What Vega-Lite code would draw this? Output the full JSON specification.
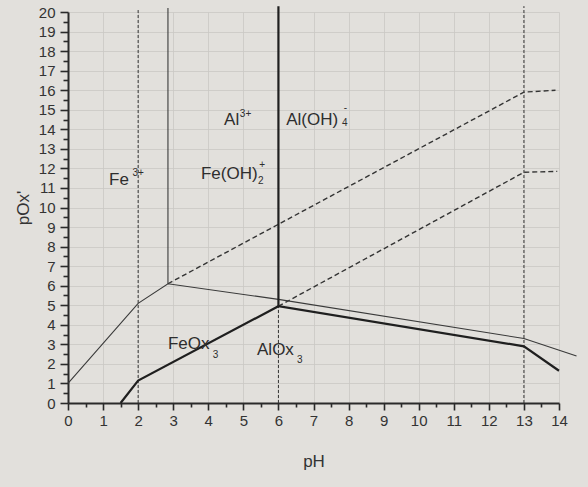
{
  "$schema": "https://vega.github.io/schema/vega-lite/v6.json",
  "width": 491,
  "height": 391,
  "autosize": {"type": "none"},
  "padding": {"left": 68, "top": 12, "right": 29, "bottom": 84},
  "background": "#e2e0dc",
  "config": {
    "view": {"stroke": null},
    "font": "Liberation Sans",
    "axis": {
      "domainColor": "#2a2a2a",
      "domainWidth": 2,
      "tickColor": "#2a2a2a",
      "tickWidth": 1.6,
      "labelColor": "#333333",
      "labelFontSize": 15,
      "labelFont": "Liberation Sans",
      "titleFont": "Liberation Sans",
      "titleColor": "#333333",
      "titleFontWeight": "normal",
      "titleFontSize": 17,
      "gridColor": "#cac8c4",
      "gridWidth": 0.8,
      "labelOverlap": false
    }
  },
  "datasets": {
    "thin": [
      {"seg": "a", "i": 0, "pH": 0, "pOx": 1.0},
      {"seg": "a", "i": 1, "pH": 2, "pOx": 5.1},
      {"seg": "a", "i": 2, "pH": 2.85, "pOx": 6.1},
      {"seg": "a", "i": 3, "pH": 6, "pOx": 5.3},
      {"seg": "a", "i": 4, "pH": 13, "pOx": 3.3},
      {"seg": "a", "i": 5, "pH": 14.5, "pOx": 2.4},
      {"seg": "b", "i": 0, "pH": 2.85, "pOx": 6.1},
      {"seg": "b", "i": 1, "pH": 2.85, "pOx": 20.2}
    ],
    "thick": [
      {"seg": "a", "i": 0, "pH": 1.5, "pOx": 0},
      {"seg": "a", "i": 1, "pH": 2, "pOx": 1.15},
      {"seg": "a", "i": 2, "pH": 6, "pOx": 4.95},
      {"seg": "a", "i": 3, "pH": 13, "pOx": 2.9},
      {"seg": "a", "i": 4, "pH": 14, "pOx": 1.65},
      {"seg": "b", "i": 0, "pH": 6, "pOx": 4.95},
      {"seg": "b", "i": 1, "pH": 6, "pOx": 20.3}
    ],
    "dashed": [
      {"seg": "a", "i": 0, "pH": 2.85, "pOx": 6.1},
      {"seg": "a", "i": 1, "pH": 13, "pOx": 15.9},
      {"seg": "a", "i": 2, "pH": 13.9, "pOx": 16.0},
      {"seg": "b", "i": 0, "pH": 6, "pOx": 4.95},
      {"seg": "b", "i": 1, "pH": 13, "pOx": 11.8},
      {"seg": "b", "i": 2, "pH": 13.95, "pOx": 11.85}
    ],
    "dotted": [
      {"seg": "a", "i": 0, "pH": 2, "pOx": 0},
      {"seg": "a", "i": 1, "pH": 2, "pOx": 20.1},
      {"seg": "b", "i": 0, "pH": 6, "pOx": 0},
      {"seg": "b", "i": 1, "pH": 6, "pOx": 4.95},
      {"seg": "c", "i": 0, "pH": 13, "pOx": 0},
      {"seg": "c", "i": 1, "pH": 13, "pOx": 20.3}
    ],
    "labels": [
      {"label": "Fe", "pH": 1.17, "pOx": 11.41},
      {"label": "Al", "pH": 4.45, "pOx": 14.48},
      {"label": "Al(OH)", "pH": 6.22, "pOx": 14.48},
      {"label": "Fe(OH)", "pH": 3.79, "pOx": 11.71},
      {"label": "FeOx", "pH": 2.85, "pOx": 3.02},
      {"label": "AlOx", "pH": 5.39, "pOx": 2.71}
    ],
    "scripts": [
      {"label": "3+", "pH": 1.84, "pOx": 11.78},
      {"label": "3+", "pH": 4.9, "pOx": 14.8},
      {"label": "4", "pH": 7.81, "pOx": 14.32},
      {"label": "-", "pH": 7.86, "pOx": 15.1},
      {"label": "2", "pH": 5.42, "pOx": 11.36},
      {"label": "+", "pH": 5.45, "pOx": 12.17},
      {"label": "3", "pH": 4.13, "pOx": 2.46},
      {"label": "3", "pH": 6.53, "pOx": 2.2}
    ]
  },
  "encoding": {
    "x": {
      "field": "pH", "type": "quantitative", "title": "pH",
      "scale": {"domain": [0, 14], "nice": false, "zero": false},
      "axis": {
        "values": [0,0.5,1,1.5,2,2.5,3,3.5,4,4.5,5,5.5,6,6.5,7,7.5,8,8.5,9,9.5,10,10.5,11,11.5,12,12.5,13,13.5,14],
        "labelExpr": "datum.value % 1 === 0 ? datum.value : ''",
        "labelOverlap": false,
        "labelFlush": false,
        "tickSize": {"condition": {"test": "datum.value % 1 === 0", "value": 7}, "value": 4},
        "labelPadding": 3,
        "gridOpacity": {"condition": {"test": "datum.value % 1 === 0", "value": 1}, "value": 0},
        "titlePadding": 25
      }
    },
    "y": {
      "field": "pOx", "type": "quantitative", "title": "pOx'",
      "scale": {"domain": [0, 20], "nice": false, "zero": false},
      "axis": {
        "values": [0,0.5,1,1.5,2,2.5,3,3.5,4,4.5,5,5.5,6,6.5,7,7.5,8,8.5,9,9.5,10,10.5,11,11.5,12,12.5,13,13.5,14,14.5,15,15.5,16,16.5,17,17.5,18,18.5,19,19.5,20],
        "labelExpr": "datum.value % 1 === 0 ? datum.value : ''",
        "labelOverlap": false,
        "labelFlush": false,
        "tickSize": {"condition": {"test": "datum.value % 1 === 0", "value": 8}, "value": 5},
        "labelPadding": 5,
        "gridOpacity": {"condition": {"test": "datum.value % 1 === 0", "value": 1}, "value": 0},
        "titlePadding": 6
      }
    }
  },
  "layer": [
    {
      "data": {"name": "dotted"},
      "mark": {"type": "line", "color": "#333333", "strokeWidth": 1, "strokeDash": [3, 2], "clip": false},
      "encoding": {"detail": {"field": "seg"}, "order": {"field": "i"}}
    },
    {
      "data": {"name": "dashed"},
      "mark": {"type": "line", "color": "#333333", "strokeWidth": 1.4, "strokeDash": [5, 3], "clip": false},
      "encoding": {"detail": {"field": "seg"}, "order": {"field": "i"}}
    },
    {
      "data": {"name": "thin"},
      "mark": {"type": "line", "color": "#3a3a3a", "strokeWidth": 1.1, "clip": false},
      "encoding": {"detail": {"field": "seg"}, "order": {"field": "i"}}
    },
    {
      "data": {"name": "thick"},
      "mark": {"type": "line", "color": "#1f1f1f", "strokeWidth": 2.2, "clip": false},
      "encoding": {"detail": {"field": "seg"}, "order": {"field": "i"}}
    },
    {
      "data": {"name": "labels"},
      "mark": {"type": "text", "font": "Liberation Sans", "fontSize": 17, "color": "#2e2e2e", "align": "left", "baseline": "middle"},
      "encoding": {"text": {"field": "label"}}
    },
    {
      "data": {"name": "scripts"},
      "mark": {"type": "text", "font": "Liberation Sans", "fontSize": 10, "color": "#2e2e2e", "align": "left", "baseline": "middle"},
      "encoding": {"text": {"field": "label"}}
    }
  ]
}
